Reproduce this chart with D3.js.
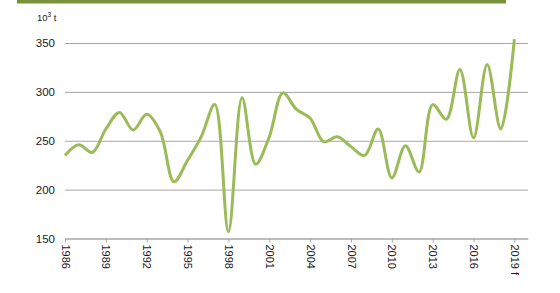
<!DOCTYPE html>
<html>
<head>
<meta charset="utf-8">
<script src="https://cdn.jsdelivr.net/npm/d3@7"></script>
<style>
  body { margin: 0; background: #fff; }
  svg { display: block; font-family: "Liberation Sans", Arial, sans-serif; }
</style>
</head>
<body>
<div id="chart"></div>
<script>
// production, 10^3 t (2019 forecast)
const years = [1986, 1987, 1988, 1989, 1990, 1991, 1992, 1993, 1994, 1995, 1996, 1997,
  1998, 1999, 2000, 2001, 2002, 2003, 2004, 2005, 2006, 2007, 2008, 2009, 2010,
  2011, 2012, 2013, 2014, 2015, 2016, 2017, 2018, 2019];
const values = [235, 246, 238, 262, 279, 261, 277, 259, 208, 230, 254, 287,
  157, 294, 226, 254, 299, 282, 273, 249, 254, 244, 235, 262, 212,
  245, 218, 287, 272, 323, 253, 328, 262, 354];
const tickYears = [1986, 1989, 1992, 1995, 1998, 2001, 2004, 2007, 2010, 2013, 2016, 2019];
const yTicks = [150, 200, 250, 300, 350];

const width = 560, height = 293;
const margin = {top: 43, right: 32, bottom: 55, left: 65};
const w = width - margin.left - margin.right,
    h = height - margin.top - margin.bottom;

const svg = d3.select("#chart")
    .append("svg")
    .attr("width", width)
    .attr("height", height);

// green header bar
svg.append("rect")
    .attr("x", 17).attr("y", 0)
    .attr("width", 489).attr("height", 3.5)
    .attr("fill", "#77933c");

const g = svg.append("g")
    .attr("transform", "translate(" + margin.left + "," + margin.top + ")");

const x = d3.scaleLinear()
    .domain([1986, 2020])
    .range([0, w]);

const y = d3.scaleLinear()
    .domain([150, 350])
    .range([h + 0.5, 0]);

// gridlines + y labels
g.append("g")
    .call(d3.axisLeft(y).tickValues(yTicks).tickSize(-w).tickPadding(10))
    .call(s => s.select(".domain").remove())
    .call(s => s.selectAll("line").attr("stroke", "#a6a6a6").attr("stroke-width", 1))
    .call(s => s.selectAll("text").attr("fill", "#1a1a1a").style("font-size", "11.5px"));

// x axis
const xAxis = g.append("g")
    .attr("transform", "translate(0," + y(150) + ")")
    .call(d3.axisBottom(x).tickValues(tickYears).tickSize(4).tickSizeOuter(0)
        .tickFormat(d => d === 2019 ? "2019 f" : d));
xAxis.select(".domain").attr("stroke", "#a6a6a6");
xAxis.selectAll("line").attr("stroke", "#a6a6a6");
xAxis.selectAll("text")
    .attr("fill", "#1a1a1a")
    .style("font-size", "11px")
    .attr("text-anchor", "start")
    .attr("transform", "rotate(90)")
    .attr("x", 6)
    .attr("y", 0)
    .attr("dy", "0.35em");

// unit label
svg.append("text")
    .attr("x", 37).attr("y", 21)
    .attr("fill", "#1a1a1a")
    .style("font-size", "9.5px")
    .text("10")
    .append("tspan").attr("dy", -4).style("font-size", "6.5px").text("3")
    .append("tspan").attr("dy", 4).style("font-size", "9.5px").text(" t");

const line = d3.line()
    .x((d, i) => x(years[i]))
    .y(d => y(d))
    .curve(d3.curveCatmullRom.alpha(0.5));

g.append("path")
    .datum(values)
    .attr("fill", "none")
    .attr("stroke", "#9bbb59")
    .attr("stroke-width", 3)
    .attr("stroke-linejoin", "round")
    .attr("d", line);
</script>
</body>
</html>
